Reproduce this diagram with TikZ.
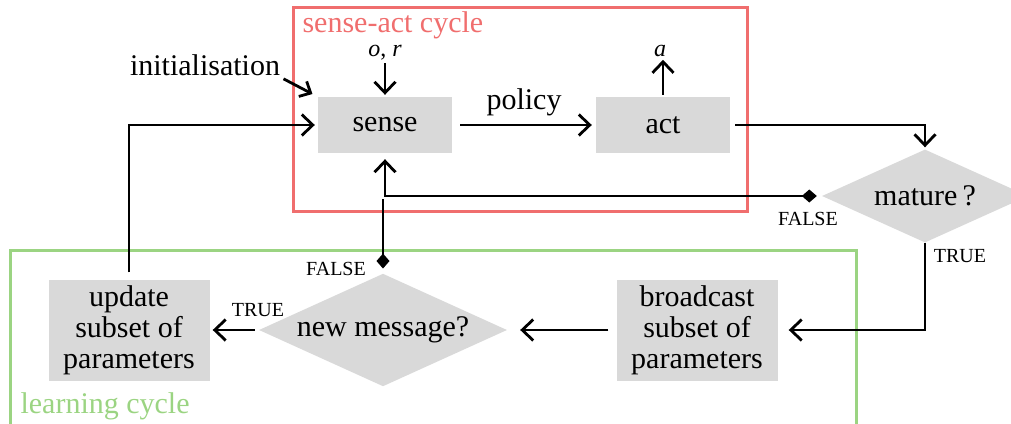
\documentclass[tikz,border=0pt]{standalone}
\usepackage{fontspec}
\setmainfont{Liberation Serif}
\usetikzlibrary{shapes.geometric,arrows.meta}

\definecolor{cyclered}{RGB}{240,110,110}
\definecolor{cyclegreen}{RGB}{155,212,130}
\definecolor{boxgray}{RGB}{217,217,217}

\begin{document}
\begin{tikzpicture}[x=1pt,y=-1pt,
    every node/.style={font=\fontsize{30}{31}\selectfont},
    box/.style={fill=boxgray,inner sep=0pt,align=center},
    decision/.style={diamond,fill=boxgray,inner sep=0pt,aspect=2},
    flag/.style={font=\fontsize{20}{22}\selectfont,anchor=base},
    signal/.style={font=\fontsize{24}{26}\selectfont\itshape,anchor=base},
    flow/.style={line width=2.8pt},
    arr/.style={flow,-{Straight Barb[length=11pt,width=21pt,line width=2.8pt]}},
    falsearr/.style={flow,{Diamond[length=15pt,width=13pt]}-{Straight Barb[length=11pt,width=21pt,line width=2.8pt]}}]
      \useasboundingbox (0,0) rectangle (1011,423);

      % the two cycles
      \draw[cyclered, line width=3pt] (293,7) rectangle (747,211);
      \node[cyclered,anchor=base west] (sacycle) at (299,32) {sense-act cycle};
      \draw[cyclegreen, line width=3pt] (10,440) |- (856,250) -- (856,440);
      \node[cyclegreen,anchor=base west] (lcycle) at (17,413) {learning cycle};

      % blocks
      \node[box,minimum width=134pt,minimum height=56pt] (sense) at (385,125) {sense};
      \node[box,minimum width=134pt,minimum height=56pt] (act) at (663,125) {act};
      \node[box,minimum width=161pt,minimum height=101pt] (update) at (129,330) {update\\subset of\\parameters};
      \node[box,minimum width=161pt,minimum height=101pt] (bcast) at (697,330) {broadcast\\subset of\\parameters};
      \node[decision,minimum width=248pt,minimum height=106pt] (newmsg) at (383,330) {new message?};
      \node[decision,minimum width=206pt,minimum height=93pt] (mature) at (925,196) {mature\,?};

      % inputs and outputs
      \node[signal] (obs) at (385,56) {o{\upshape,} r};
      \node[signal] (action) at (660,56) {a};
      \node[anchor=base] (init) at (205,75) {initialisation};
      \draw[arr, shorten >=2pt] (obs.south) -- (sense.north);
      \draw[arr, shorten <=2pt] (act.north) -- (act.north |- action.south);
      \draw[arr, shorten >=6pt, -{Straight Barb[length=9pt,width=17pt,line width=2.8pt]}] (init.south east) -- (sense.north west);

      % sense-act cycle
      \draw[arr, shorten <=8pt, shorten >=4pt] (sense.east) -- node[above=4pt] (policy) {policy} (act.west);
      \draw[arr, shorten >=2pt] ([xshift=5pt]act.east) -| (mature.north);
      \draw[falsearr, shorten >=6pt] ([xshift=-5pt]mature.west) -| (sense.south);
      \node[flag] (matfalse) at (808,225) {FALSE};
      \node[flag] (mattrue) at (960,262) {TRUE};

      % learning cycle
      \coordinate (merge) at (383,199);
      \draw[flow, {Diamond[length=15pt,width=13pt]}-] ([yshift=5pt]newmsg.north) -- (merge);
      \node[flag] (msgfalse) at (336,275) {FALSE};
      \draw[arr, shorten >=11pt] (mature.south) |- (bcast.east);
      \draw[arr, shorten <=8pt, shorten >=13pt] (bcast.west) -- (newmsg.east);
      \draw[arr, shorten <=4pt, shorten >=3pt] (newmsg.west) -- (update.east);
      \node[flag] (msgtrue) at (258,316) {TRUE};
      \draw[arr, shorten <=7pt, shorten >=3pt] (update.north) |- (sense.west);
\end{tikzpicture}
\end{document}
